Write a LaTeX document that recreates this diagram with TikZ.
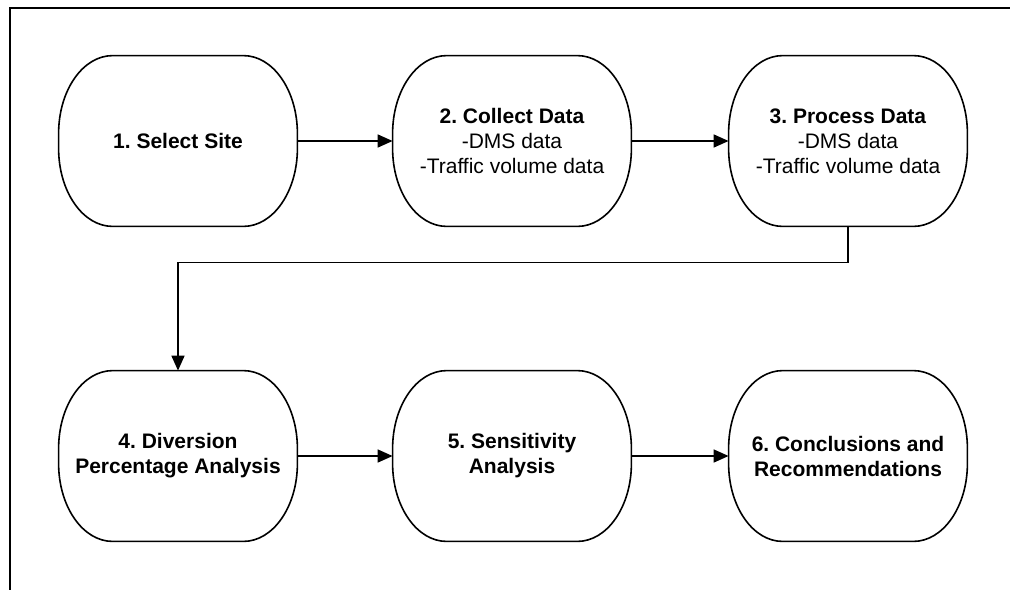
\documentclass[tikz,border=0pt]{standalone}
\usepackage{fontspec}
\setmainfont{Liberation Sans}
\usetikzlibrary{arrows.meta}
\frenchspacing

\tikzset{
  stage/.style={minimum width=119pt, minimum height=85pt, inner sep=0pt,
    align=center, font=\fontsize{10.5}{12.5}\selectfont},
  bold stage/.style={stage, font=\fontsize{10.5}{12.5}\selectfont\bfseries},
  rim/.style={line width=0.8pt},
  flow/.style={line width=0.8pt, -{Triangle[length=7.5pt,width=6.5pt]}},
}

% outline with elliptic corners round a stage node
\newcommand{\stagerim}[1]{%
  \draw[rim] ([xshift=27pt]#1.north west) -- ([xshift=-27pt]#1.north east)
    arc[start angle=90, end angle=0, x radius=27pt, y radius=39pt]
    -- ([yshift=39pt]#1.south east)
    arc[start angle=0, end angle=-90, x radius=27pt, y radius=39pt]
    -- ([xshift=27pt]#1.south west)
    arc[start angle=270, end angle=180, x radius=27pt, y radius=39pt]
    -- ([yshift=-39pt]#1.north west)
    arc[start angle=180, end angle=90, x radius=27pt, y radius=39pt]
    -- cycle;}

\begin{document}
\begin{tikzpicture}[x=0.5pt, y=-0.5pt]
  \useasboundingbox (0,0) rectangle (1010,589);
  \begin{scope}
    \clip (0,0) rectangle (1010,589);
    \draw[line width=1.4pt] (10,8) rectangle (1030,610);
  \end{scope}

  \node[bold stage] (s1) at (178,141) {1. Select Site};
  \node[stage] (s2) at (512,141) {\textbf{2. Collect Data}\\-DMS data\\-Traffic volume data};
  \node[stage] (s3) at (848,141) {\textbf{3. Process Data}\\-DMS data\\-Traffic volume data};
  \node[bold stage] (s4) at (178,456) {4. Diversion\\Percentage Analysis};
  \node[bold stage] (s5) at (512,456) {5. Sensitivity\\Analysis};
  \node[bold stage] (s6) at (848,456) {6. Conclusions and\\Recommendations};

  \foreach \s in {s1,s2,s3,s4,s5,s6}
    \stagerim{\s};

  \draw[flow] (s1) -- (s2);
  \draw[flow] (s2) -- (s3);
  \draw[flow] (s3.south) -- ++(0,36) -| (s4.north);
  \draw[flow] (s4) -- (s5);
  \draw[flow] (s5) -- (s6);
\end{tikzpicture}
\end{document}
